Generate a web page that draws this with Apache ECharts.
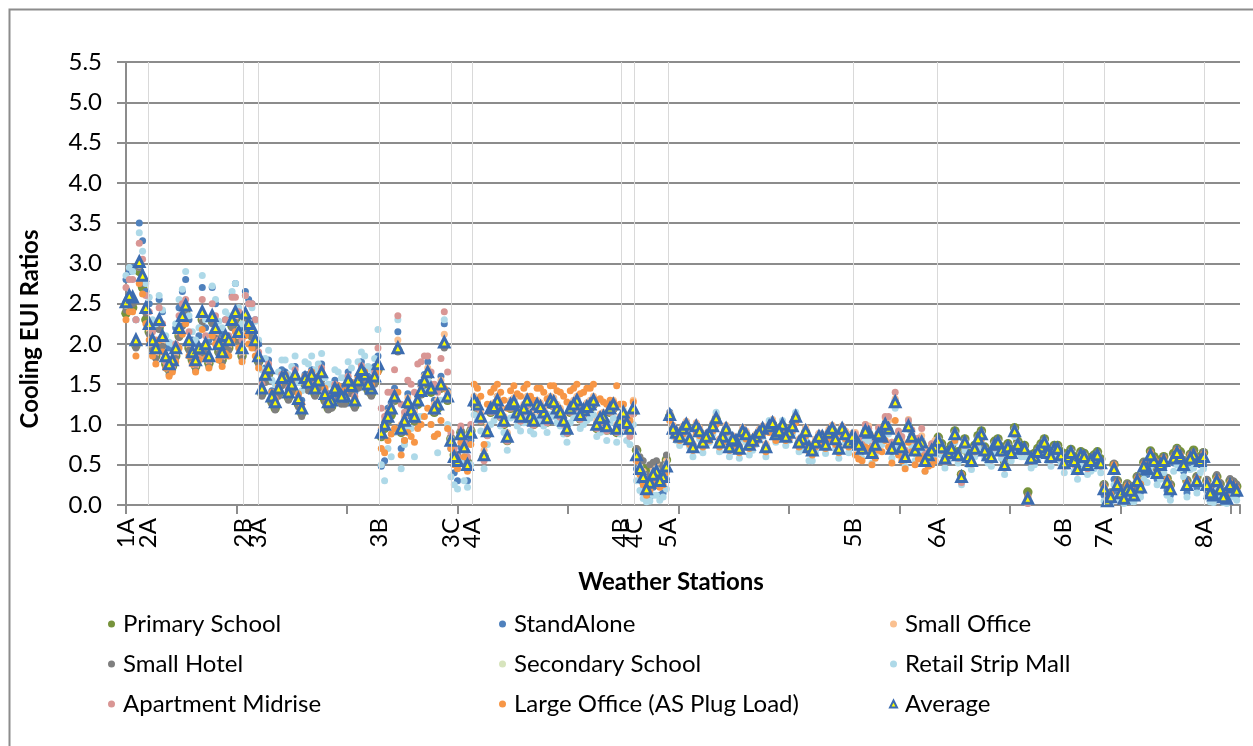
<!DOCTYPE html>
<html><head><meta charset="utf-8">
<script src="https://cdn.jsdelivr.net/npm/echarts@6/dist/echarts.min.js"></script>
<style>html,body{margin:0;padding:0;background:#fff}#c{width:1253px;height:746px}</style>
</head><body><div id="c"></div><script>
// Climate-zone labels and the station number where each zone starts
const zoneNames = ['1A','2A','2B','3A','3B','3C','4A','4B','4C','5A','5B','6A','6B','7A','8A'];
const zonePos   = [0, 20, 106, 120, 229, 294, 313, 448, 460, 491, 658, 734, 848, 885, 976];
const yTicks = [0,0.5,1,1.5,2,2.5,3,3.5,4,4.5,5,5.5];

// Sampled weather stations: set A = stations 0,6,...,1002 ; set B = stations 3,9,...,1005
const stationsA = Array.from({length:168}, (_, i) => i * 6);
const stationsB = Array.from({length:168}, (_, i) => i * 6 + 3);

// ---------- Set A values ----------
const primarySchoolA = [
2.38,2.45,2.9,2.3,
1.95,2.2,1.75,1.72,2.1,2.4,1.8,1.88,1.92,2.28,1.9,2.02,2.22,2.05,
2.3,2.1,
1.78,1.55,1.28,1.38,1.52,1.42,1.25,1.5,1.55,1.48,1.3,1.22,1.35,1.28,1.4,1.48,1.55,1.38,1.68,
0.95,1.12,1.92,1.0,1.12,1.25,1.5,1.4,1.2,1.98,
0.82,0.58,0.78,0.92,
1.2,0.6,1.15,1.25,1.0,1.2,1.1,1.15,1.05,1.2,1.1,1.25,1.15,1.0,1.15,1.25,1.12,1.2,0.95,1.05,1.15,0.9,
1.1,0.92,
0.68,0.45,0.42,0.5,0.45,
1.1,0.88,0.93,0.8,0.96,0.76,0.86,1.06,0.83,0.7,0.78,0.9,0.73,0.83,0.93,0.96,0.86,0.98,0.88,1.08,0.8,0.7,0.76,0.83,0.88,0.8,0.93,0.76,
0.8,0.68,0.88,0.73,0.83,0.93,1.25,0.7,0.96,0.66,0.76,0.6,0.7,
0.76,0.68,0.92,0.38,0.64,0.74,0.92,0.66,0.79,0.72,0.76,0.96,0.74,0.16,0.64,0.76,0.69,0.74,0.66,
0.64,0.6,0.66,0.55,0.62,0.57,
0.1,0.5,0.2,0.26,0.18,0.28,0.5,0.6,0.56,0.33,0.64,0.66,0.3,0.68,0.6,
0.3,0.18,0.26,0.14,0.28];

const standAloneA = [
2.8,2.95,3.5,2.65,
2.2,2.55,2.0,1.95,2.45,2.8,2.05,2.1,2.2,2.7,2.15,2.3,2.6,2.35,
2.65,2.5,
2.0,1.7,1.42,1.5,1.65,1.55,1.38,1.62,1.68,1.6,1.42,1.35,1.48,1.4,1.52,1.6,1.68,1.5,1.85,
0.55,1.25,2.15,0.8,1.1,1.35,1.62,1.5,1.3,2.25,
0.7,0.3,0.55,0.8,
1.28,0.58,1.22,1.35,1.08,1.28,1.18,1.22,1.12,1.28,1.18,1.32,1.22,1.08,1.22,1.32,1.2,1.28,1.02,1.12,1.22,0.98,
1.12,0.9,
0.45,0.2,0.1,0.3,0.15,
1.15,0.92,0.97,0.84,1.0,0.8,0.9,1.1,0.87,0.74,0.82,0.94,0.77,0.87,0.97,1.0,0.9,1.02,0.92,1.12,0.84,0.74,0.8,0.87,0.92,0.84,0.97,0.8,
0.84,0.72,0.92,0.77,0.87,0.97,1.3,0.74,1.0,0.7,0.8,0.64,0.74,
0.7,0.63,0.86,0.3,0.58,0.68,0.86,0.6,0.73,0.66,0.7,0.9,0.68,0.05,0.58,0.7,0.63,0.68,0.6,
0.58,0.52,0.6,0.46,0.55,0.5,
0.03,0.32,0.1,0.15,0.08,0.16,0.38,0.5,0.42,0.18,0.52,0.55,0.15,0.57,0.5,
0.18,0.06,0.14,0.04,0.16];

const smallOfficeA = [
2.45,2.52,2.95,2.4,
1.98,2.25,1.78,1.75,2.12,2.42,1.85,1.9,1.95,2.3,1.95,2.05,2.25,2.1,
2.32,2.15,
1.8,1.58,1.3,1.4,1.55,1.45,1.28,1.52,1.58,1.5,1.33,1.25,1.38,1.3,1.43,1.5,1.58,1.4,1.7,
1.05,1.22,2.05,1.1,1.22,1.35,1.6,1.5,1.3,2.12,
0.85,0.6,0.78,0.95,
1.3,0.68,1.25,1.35,1.1,1.3,1.2,1.25,1.15,1.3,1.2,1.35,1.25,1.1,1.25,1.35,1.22,1.3,1.05,1.15,1.28,1.0,
1.25,1.1,
0.7,0.42,0.35,0.5,0.42,
1.14,0.93,0.98,0.85,1.02,0.82,0.92,1.12,0.88,0.75,0.84,0.96,0.78,0.88,0.98,1.02,0.92,1.04,0.94,1.14,0.86,0.76,0.82,0.88,0.94,0.86,0.98,0.82,
0.9,0.78,0.98,0.85,0.95,1.05,1.32,0.8,1.06,0.76,0.86,0.7,0.8,
0.74,0.67,0.9,0.37,0.62,0.72,0.9,0.64,0.77,0.7,0.74,0.94,0.72,0.1,0.62,0.74,0.67,0.72,0.64,
0.62,0.57,0.64,0.52,0.6,0.55,
0.07,0.47,0.17,0.22,0.14,0.24,0.47,0.57,0.52,0.3,0.6,0.62,0.27,0.64,0.57,
0.27,0.14,0.22,0.1,0.24];

const smallHotelA = [
2.42,2.5,2.95,2.38,
1.92,2.18,1.7,1.68,2.08,2.38,1.78,1.85,1.88,2.25,1.88,1.98,2.2,2.02,
2.28,2.08,
1.75,1.52,1.25,1.35,1.5,1.4,1.22,1.48,1.52,1.45,1.28,1.2,1.32,1.25,1.38,1.45,1.52,1.35,1.65,
1.0,1.15,1.9,1.02,1.15,1.28,1.52,1.42,1.22,1.95,
0.85,0.62,0.78,0.95,
1.22,0.62,1.18,1.28,1.02,1.22,1.12,1.18,1.08,1.22,1.12,1.28,1.18,1.02,1.18,1.28,1.15,1.22,0.98,1.08,1.18,0.92,
1.12,0.92,
0.7,0.55,0.5,0.55,0.5,
1.1,0.88,0.93,0.8,0.96,0.76,0.86,1.06,0.83,0.7,0.78,0.9,0.73,0.83,0.93,0.96,0.86,0.98,0.88,1.08,0.8,0.7,0.76,0.83,0.88,0.8,0.93,0.76,
0.8,0.68,0.88,0.73,0.83,0.93,1.26,0.7,0.96,0.66,0.76,0.6,0.7,
0.75,0.68,0.91,0.38,0.63,0.73,0.91,0.65,0.78,0.71,0.75,0.95,0.73,0.12,0.63,0.75,0.68,0.73,0.65,
0.63,0.58,0.65,0.54,0.61,0.56,
0.12,0.52,0.22,0.27,0.2,0.3,0.5,0.58,0.54,0.34,0.62,0.64,0.32,0.66,0.6,
0.32,0.2,0.28,0.16,0.3];

const secondarySchoolA = [
2.48,2.55,2.98,2.42,
2.02,2.27,1.82,1.77,2.17,2.45,1.87,1.92,1.97,2.32,1.97,2.07,2.27,2.12,
2.35,2.17,
1.82,1.6,1.33,1.43,1.58,1.48,1.3,1.56,1.6,1.53,1.36,1.28,1.4,1.33,1.46,1.53,1.6,1.43,1.72,
0.98,1.18,1.92,1.03,1.16,1.28,1.53,1.43,1.23,2.0,
0.82,0.57,0.74,0.92,
1.23,0.63,1.18,1.28,1.03,1.23,1.13,1.18,1.08,1.23,1.13,1.28,1.18,1.03,1.18,1.28,1.16,1.23,0.98,1.08,1.18,0.96,
1.18,0.98,
0.64,0.38,0.3,0.44,0.37,
1.11,0.89,0.94,0.81,0.97,0.77,0.87,1.07,0.84,0.71,0.79,0.91,0.74,0.84,0.94,0.97,0.87,0.99,0.89,1.09,0.81,0.71,0.77,0.84,0.89,0.81,0.94,0.77,
0.83,0.71,0.91,0.76,0.86,0.96,1.27,0.73,0.99,0.69,0.79,0.63,0.73,
0.73,0.66,0.89,0.36,0.61,0.71,0.89,0.63,0.76,0.69,0.73,0.93,0.71,0.09,0.61,0.73,0.66,0.71,0.63,
0.61,0.56,0.63,0.51,0.59,0.53,
0.06,0.46,0.16,0.21,0.13,0.23,0.46,0.56,0.51,0.29,0.59,0.61,0.26,0.63,0.56,
0.26,0.13,0.21,0.09,0.23];

const retailStripMallA = [
2.85,2.9,3.38,2.75,
2.3,2.6,2.1,2.0,2.55,2.9,2.15,2.2,2.3,2.72,2.28,2.4,2.65,2.45,
2.6,2.45,
2.05,1.82,1.55,1.65,1.8,1.72,1.52,1.78,1.85,1.75,1.58,1.5,1.65,1.58,1.7,1.78,1.85,1.68,2.18,
0.3,0.6,2.3,0.75,0.95,1.1,1.4,1.0,0.65,2.3,
0.35,0.2,0.3,0.5,
1.05,0.45,1.0,1.12,0.9,1.08,0.98,1.02,0.92,1.08,0.98,1.12,1.02,0.88,1.02,1.12,1.0,1.08,0.85,0.92,1.02,0.78,
0.95,0.75,
0.3,0.08,0.05,0.12,0.1,
1.05,0.8,0.85,0.72,0.88,0.65,0.78,1.15,0.75,0.6,0.68,0.82,0.62,0.75,0.85,1.05,0.78,1.05,0.8,1.15,0.7,0.55,0.65,0.75,0.8,0.7,0.88,0.65,
0.72,0.58,0.8,0.63,0.75,0.88,1.2,0.6,1.05,0.55,0.66,0.5,0.6,
0.62,0.55,0.78,0.25,0.5,0.6,0.8,0.52,0.65,0.58,0.62,0.85,0.6,0.02,0.5,0.62,0.55,0.6,0.52,
0.48,0.42,0.5,0.38,0.45,0.4,
0.02,0.25,0.05,0.08,0.04,0.1,0.28,0.38,0.32,0.12,0.42,0.45,0.1,0.46,0.4,
0.1,0.03,0.08,0.02,0.1];

const apartmentMidriseA = [
2.7,2.8,3.25,2.6,
2.15,2.45,1.78,1.72,2.35,2.55,1.75,1.82,2.1,2.5,2.05,2.3,2.58,2.4,
2.6,2.5,
1.9,1.65,1.35,1.45,1.62,1.52,1.33,1.6,1.65,1.57,1.4,1.32,1.45,1.37,1.5,1.57,1.65,1.47,1.95,
1.1,1.4,2.35,1.15,1.5,1.75,1.85,1.65,1.4,2.4,
0.9,0.6,0.78,1.0,
1.2,0.55,1.15,1.25,1.0,1.2,1.1,1.15,1.05,1.2,1.1,1.25,1.15,1.0,1.15,1.25,1.12,1.2,0.95,1.05,1.15,0.9,
1.1,0.85,
0.55,0.3,0.22,0.38,0.3,
1.08,0.86,0.9,0.78,0.94,0.74,0.84,1.04,0.81,0.68,0.76,0.88,0.71,0.81,0.91,0.94,0.84,0.96,0.86,1.06,0.78,0.68,0.74,0.81,0.86,0.78,0.91,0.74,
0.88,0.75,0.95,0.8,0.92,1.1,1.4,0.85,1.05,0.8,0.95,0.65,0.75,
0.68,0.6,0.84,0.28,0.55,0.66,0.84,0.58,0.71,0.64,0.68,0.88,0.66,0.02,0.56,0.68,0.61,0.66,0.58,
0.56,0.5,0.58,0.45,0.54,0.48,
0.03,0.42,0.12,0.17,0.1,0.2,0.42,0.52,0.47,0.25,0.55,0.57,0.22,0.6,0.52,
0.22,0.1,0.17,0.06,0.19];

const largeOfficeA = [
2.3,2.4,2.75,2.25,
1.85,2.05,1.7,1.65,1.95,2.25,1.75,1.8,1.82,2.1,1.8,1.88,2.05,1.95,
2.1,1.95,
1.7,1.6,1.4,1.48,1.62,1.55,1.38,1.6,1.65,1.6,1.45,1.38,1.48,1.42,1.52,1.6,1.65,1.5,1.65,
0.65,0.88,1.4,0.8,0.85,0.95,1.1,1.0,0.88,1.45,
0.7,0.45,0.6,0.75,
1.45,0.75,1.4,1.5,1.3,1.42,1.38,1.45,1.35,1.45,1.4,1.48,1.42,1.35,1.42,1.5,1.4,1.45,1.3,1.28,1.3,1.48,
1.25,1.05,
0.55,0.25,0.18,0.32,0.25,
1.05,0.82,0.88,0.75,0.9,0.72,0.8,1.0,0.78,0.68,0.74,0.85,0.7,0.78,0.88,0.9,0.8,0.92,0.82,1.02,0.75,0.66,0.72,0.78,0.82,0.75,0.88,0.72,
0.62,0.55,0.7,0.58,0.66,0.72,1.05,0.55,0.78,0.5,0.6,0.48,0.55,
0.68,0.62,0.8,0.38,0.58,0.66,0.82,0.6,0.72,0.65,0.7,0.88,0.68,0.1,0.6,0.7,0.63,0.68,0.6,
0.58,0.54,0.6,0.5,0.56,0.52,
0.08,0.5,0.18,0.24,0.15,0.26,0.48,0.57,0.53,0.32,0.6,0.62,0.28,0.64,0.58,
0.28,0.15,0.23,0.11,0.25];

const averageA = [
2.52,2.58,3.02,2.45,
2.05,2.3,1.85,1.8,2.2,2.48,1.9,1.95,2.0,2.35,2.0,2.1,2.3,2.15,
2.38,2.2,
1.85,1.62,1.35,1.45,1.6,1.5,1.32,1.58,1.62,1.55,1.38,1.3,1.42,1.35,1.48,1.55,1.62,1.45,1.75,
1.0,1.2,1.95,1.05,1.18,1.3,1.55,1.45,1.25,2.02,
0.8,0.55,0.72,0.9,
1.25,0.62,1.2,1.3,1.05,1.25,1.15,1.2,1.1,1.25,1.15,1.3,1.2,1.05,1.2,1.3,1.18,1.25,1.0,1.1,1.2,0.95,
1.15,0.95,
0.62,0.35,0.28,0.42,0.35,
1.12,0.9,0.95,0.82,0.98,0.78,0.88,1.08,0.85,0.72,0.8,0.92,0.75,0.85,0.95,0.98,0.88,1.0,0.9,1.1,0.82,0.72,0.78,0.85,0.9,0.82,0.95,0.78,
0.82,0.7,0.9,0.75,0.85,0.95,1.28,0.72,0.98,0.68,0.78,0.62,0.72,
0.72,0.65,0.88,0.35,0.6,0.7,0.88,0.62,0.75,0.68,0.72,0.92,0.7,0.08,0.6,0.72,0.65,0.7,0.62,
0.6,0.55,0.62,0.5,0.58,0.52,
0.05,0.45,0.15,0.2,0.12,0.22,0.45,0.55,0.5,0.28,0.58,0.6,0.25,0.62,0.55,
0.25,0.12,0.2,0.08,0.22];

// ---------- Set B values ----------
const primarySchoolB = [
2.45,1.98,2.7,
2.15,1.85,2.0,1.68,1.85,2.25,1.95,1.72,2.3,1.76,2.1,1.8,1.95,2.3,1.85,
2.18,1.97,
1.38,1.62,1.2,1.5,1.33,1.55,1.14,1.45,1.38,1.58,1.2,1.38,1.28,1.48,1.23,1.6,1.43,1.53,
0.85,1.05,1.3,0.9,1.23,1.05,1.38,1.6,1.15,1.45,1.3,
0.62,0.9,0.53,
1.25,1.05,0.88,1.17,1.1,0.8,1.23,1.05,1.25,1.0,1.17,1.03,1.23,1.1,0.9,1.2,1.07,1.17,1.25,1.03,0.93,1.2,1.0,
0.97,1.15,
0.55,0.3,0.46,0.4,0.56,
0.93,0.83,0.98,0.7,0.9,0.83,0.96,0.76,0.93,0.8,0.68,0.86,0.78,0.88,0.7,1.0,0.9,0.83,0.96,0.76,0.9,0.66,0.83,0.73,0.93,0.68,0.86,0.83,
0.73,0.9,0.63,0.86,0.98,0.68,0.8,0.58,0.83,0.73,0.53,0.66,
0.84,0.62,0.74,0.66,0.82,0.59,0.86,0.72,0.64,0.82,0.54,0.69,0.79,0.74,0.62,0.7,0.82,0.64,0.74,
0.56,0.69,0.49,0.64,0.59,0.66,
0.25,0.15,0.3,0.13,0.23,0.35,0.53,0.67,0.45,0.6,0.25,0.7,0.55,0.63,0.35,0.65,
0.2,0.35,0.15,0.3,0.23];

const standAloneB = [
2.9,2.3,3.28,
2.5,2.2,2.4,1.95,2.2,2.65,2.3,2.0,2.7,2.05,2.5,2.12,2.3,2.75,2.2,
2.55,2.3,
1.55,1.8,1.38,1.68,1.5,1.72,1.3,1.62,1.55,1.75,1.38,1.55,1.45,1.65,1.4,1.78,1.6,1.72,
0.48,1.2,1.45,0.7,1.38,1.2,1.52,1.78,1.3,1.6,1.42,
0.4,0.72,0.3,
1.33,1.13,0.95,1.25,1.18,0.88,1.31,1.13,1.33,1.08,1.25,1.11,1.31,1.18,0.98,1.28,1.15,1.25,1.33,1.11,1.01,1.28,1.08,
0.98,1.17,
0.3,0.08,0.22,0.12,0.32,
0.98,0.88,1.03,0.75,0.95,0.88,1.01,0.81,0.98,0.85,0.73,0.91,0.83,0.93,0.75,1.05,0.95,0.88,1.01,0.81,0.95,0.71,0.88,0.78,0.98,0.73,0.91,0.88,
0.77,0.94,0.67,0.9,1.02,0.72,0.84,0.62,0.87,0.77,0.57,0.7,
0.78,0.56,0.68,0.6,0.76,0.53,0.8,0.66,0.58,0.76,0.48,0.63,0.73,0.68,0.56,0.64,0.76,0.58,0.68,
0.49,0.62,0.42,0.57,0.52,0.59,
0.12,0.04,0.17,0.03,0.1,0.22,0.4,0.55,0.32,0.47,0.12,0.57,0.42,0.5,0.22,0.52,
0.09,0.24,0.05,0.19,0.12];

const smallOfficeB = [
2.53,1.98,2.78,
2.18,1.88,2.03,1.68,1.88,2.28,1.98,1.73,2.33,1.78,2.13,1.83,1.98,2.33,1.88,
2.19,1.99,
1.4,1.65,1.23,1.53,1.35,1.57,1.15,1.47,1.4,1.6,1.23,1.4,1.3,1.5,1.25,1.63,1.45,1.55,
0.95,1.15,1.4,1.0,1.33,1.15,1.47,1.7,1.25,1.55,1.4,
0.65,0.93,0.55,
1.35,1.15,0.97,1.27,1.2,0.9,1.33,1.15,1.35,1.1,1.27,1.13,1.33,1.2,1.0,1.3,1.17,1.27,1.35,1.13,1.03,1.3,1.1,
1.12,1.3,
0.52,0.27,0.45,0.37,0.55,
0.99,0.89,1.04,0.76,0.96,0.89,1.02,0.82,0.99,0.86,0.74,0.92,0.84,0.94,0.76,1.06,0.96,0.89,1.02,0.82,0.96,0.72,0.89,0.79,0.99,0.74,0.92,0.89,
0.83,1.0,0.73,0.96,1.08,0.78,0.9,0.68,0.93,0.83,0.63,0.76,
0.82,0.6,0.72,0.64,0.8,0.57,0.84,0.7,0.62,0.8,0.52,0.67,0.77,0.72,0.6,0.68,0.8,0.62,0.72,
0.54,0.67,0.47,0.62,0.57,0.64,
0.22,0.12,0.27,0.1,0.2,0.32,0.5,0.64,0.42,0.57,0.22,0.67,0.52,0.6,0.32,0.62,
0.17,0.32,0.12,0.27,0.2];

const smallHotelB = [
2.5,1.95,2.75,
2.12,1.82,1.97,1.62,1.82,2.22,1.92,1.67,2.27,1.72,2.07,1.77,1.92,2.27,1.82,
2.15,1.95,
1.35,1.6,1.18,1.48,1.3,1.52,1.1,1.42,1.35,1.55,1.18,1.35,1.25,1.45,1.2,1.58,1.4,1.5,
0.85,1.05,1.3,0.9,1.23,1.05,1.37,1.6,1.15,1.45,1.3,
0.65,0.93,0.55,
1.27,1.07,0.89,1.19,1.12,0.82,1.25,1.07,1.27,1.02,1.19,1.05,1.25,1.12,0.92,1.22,1.09,1.19,1.27,1.05,0.95,1.22,1.02,
0.99,1.17,
0.6,0.38,0.53,0.45,0.62,
0.92,0.82,0.97,0.69,0.89,0.82,0.95,0.75,0.92,0.79,0.67,0.85,0.77,0.87,0.69,0.99,0.89,0.82,0.95,0.75,0.89,0.65,0.82,0.72,0.92,0.67,0.85,0.82,
0.73,0.9,0.63,0.86,0.98,0.68,0.8,0.58,0.83,0.73,0.53,0.66,
0.83,0.61,0.73,0.65,0.81,0.58,0.85,0.71,0.63,0.81,0.53,0.68,0.78,0.73,0.61,0.69,0.81,0.63,0.73,
0.55,0.68,0.48,0.63,0.58,0.65,
0.26,0.16,0.31,0.14,0.24,0.36,0.54,0.66,0.46,0.6,0.26,0.7,0.56,0.63,0.36,0.66,
0.23,0.38,0.18,0.33,0.26];

const secondarySchoolB = [
2.57,2.02,2.82,
2.22,1.92,2.07,1.72,1.92,2.32,2.02,1.77,2.37,1.82,2.17,1.87,2.02,2.37,1.92,
2.22,2.02,
1.42,1.67,1.25,1.55,1.37,1.59,1.17,1.49,1.42,1.62,1.25,1.42,1.32,1.52,1.27,1.65,1.47,1.57,
0.87,1.07,1.32,0.92,1.25,1.07,1.39,1.62,1.17,1.47,1.32,
0.58,0.86,0.48,
1.27,1.07,0.9,1.19,1.12,0.83,1.25,1.07,1.27,1.02,1.19,1.05,1.25,1.12,0.93,1.22,1.09,1.19,1.27,1.05,0.96,1.22,1.02,
1.0,1.17,
0.47,0.22,0.4,0.32,0.5,
0.94,0.84,0.99,0.71,0.91,0.84,0.97,0.77,0.94,0.81,0.69,0.87,0.79,0.89,0.71,1.01,0.91,0.84,0.97,0.77,0.91,0.67,0.84,0.74,0.94,0.69,0.87,0.84,
0.74,0.91,0.64,0.87,0.99,0.69,0.81,0.59,0.84,0.74,0.54,0.67,
0.81,0.59,0.71,0.63,0.79,0.56,0.83,0.69,0.61,0.79,0.51,0.66,0.76,0.71,0.59,0.67,0.79,0.61,0.71,
0.53,0.66,0.46,0.61,0.56,0.63,
0.21,0.11,0.26,0.09,0.19,0.31,0.49,0.63,0.41,0.56,0.21,0.66,0.51,0.59,0.31,0.61,
0.16,0.31,0.11,0.26,0.19];

const retailStripMallB = [
2.95,2.3,3.15,
2.58,2.25,2.42,2.02,2.25,2.68,2.35,2.05,2.85,2.1,2.55,2.2,2.35,2.75,2.25,
2.5,2.28,
1.68,1.92,1.5,1.8,1.62,1.85,1.42,1.75,1.68,1.88,1.5,1.68,1.58,1.78,1.52,1.9,1.72,1.82,
0.5,0.7,0.9,0.45,0.95,0.6,1.1,1.55,0.85,1.3,1.0,
0.25,0.55,0.22,
1.12,0.92,0.75,1.05,0.98,0.68,1.1,0.92,1.12,0.88,1.05,0.9,1.1,0.98,0.78,1.08,0.95,1.05,1.12,0.9,0.8,1.08,0.88,
0.8,1.0,
0.18,0.04,0.12,0.06,0.2,
0.85,0.74,0.9,0.6,0.82,0.74,0.88,0.66,0.85,0.7,0.58,0.78,0.68,0.8,0.6,0.92,0.82,0.74,0.88,0.66,0.82,0.55,0.74,0.64,0.85,0.58,0.78,0.74,
0.62,0.8,0.52,0.76,0.88,0.58,0.7,0.48,0.72,0.62,0.42,0.55,
0.7,0.46,0.6,0.52,0.68,0.44,0.72,0.58,0.48,0.68,0.38,0.55,0.65,0.6,0.46,0.56,0.68,0.48,0.6,
0.4,0.52,0.32,0.48,0.42,0.5,
0.05,0.02,0.1,0.02,0.04,0.15,0.32,0.48,0.25,0.4,0.06,0.5,0.35,0.44,0.15,0.45,
0.04,0.18,0.03,0.13,0.06];

const apartmentMidriseB = [
2.8,2.3,3.05,
2.4,2.05,2.25,1.72,2.0,2.5,2.15,1.75,2.55,1.8,2.35,1.85,2.1,2.58,2.05,
2.5,2.3,
1.5,1.75,1.32,1.62,1.45,1.68,1.25,1.57,1.5,1.7,1.33,1.5,1.4,1.6,1.35,1.73,1.55,1.65,
1.2,1.4,1.68,1.25,1.55,1.4,1.78,1.85,1.5,1.82,1.65,
0.7,0.98,0.6,
1.24,1.04,0.86,1.16,1.09,0.79,1.22,1.04,1.24,0.99,1.16,1.02,1.22,1.09,0.89,1.19,1.06,1.16,1.24,1.02,0.92,1.19,0.99,
0.95,1.13,
0.39,0.15,0.32,0.24,0.42,
0.91,0.81,0.96,0.68,0.88,0.81,0.94,0.74,0.91,0.78,0.66,0.84,0.76,0.86,0.68,0.98,0.88,0.81,0.94,0.74,0.88,0.64,0.81,0.71,0.91,0.66,0.84,0.81,
0.83,1.0,0.73,0.96,1.1,0.78,0.92,0.68,0.93,0.83,0.63,0.76,
0.76,0.54,0.66,0.58,0.74,0.51,0.78,0.64,0.56,0.74,0.46,0.61,0.71,0.66,0.54,0.62,0.74,0.56,0.66,
0.48,0.61,0.41,0.56,0.51,0.58,
0.17,0.07,0.22,0.05,0.15,0.27,0.45,0.59,0.37,0.52,0.17,0.62,0.47,0.55,0.27,0.57,
0.12,0.27,0.07,0.22,0.15];

const largeOfficeB = [
2.4,1.85,2.62,
2.05,1.75,1.9,1.6,1.78,2.12,1.85,1.65,2.18,1.7,2.0,1.72,1.85,2.15,1.78,
2.0,1.85,
1.45,1.68,1.3,1.58,1.42,1.62,1.25,1.52,1.48,1.65,1.3,1.46,1.38,1.55,1.32,1.65,1.5,1.58,
0.7,0.8,0.95,0.62,0.9,0.78,1.0,1.2,0.85,1.05,0.95,
0.5,0.78,0.42,
1.5,1.35,1.25,1.45,1.4,1.2,1.48,1.35,1.5,1.3,1.45,1.32,1.48,1.4,1.28,1.45,1.38,1.45,1.5,1.32,1.25,1.28,1.25,
1.1,1.28,
0.38,0.12,0.3,0.22,0.4,
0.9,0.8,0.95,0.68,0.86,0.8,0.92,0.72,0.9,0.76,0.65,0.82,0.74,0.84,0.66,0.96,0.86,0.8,0.92,0.72,0.86,0.62,0.8,0.7,0.9,0.65,0.82,0.8,
0.57,0.72,0.5,0.68,0.8,0.52,0.62,0.45,0.66,0.57,0.42,0.5,
0.77,0.55,0.67,0.6,0.75,0.52,0.79,0.65,0.57,0.75,0.48,0.62,0.72,0.67,0.55,0.63,0.75,0.57,0.67,
0.5,0.63,0.43,0.58,0.53,0.6,
0.23,0.13,0.28,0.11,0.21,0.33,0.51,0.65,0.43,0.58,0.23,0.68,0.53,0.61,0.33,0.63,
0.18,0.33,0.13,0.28,0.21];

const averageB = [
2.6,2.05,2.85,
2.25,1.95,2.1,1.75,1.95,2.35,2.05,1.8,2.4,1.85,2.2,1.9,2.05,2.4,1.95,
2.25,2.05,
1.45,1.7,1.28,1.58,1.4,1.62,1.2,1.52,1.45,1.65,1.28,1.45,1.35,1.55,1.3,1.68,1.5,1.6,
0.9,1.1,1.35,0.95,1.28,1.1,1.42,1.65,1.2,1.5,1.35,
0.6,0.88,0.5,
1.3,1.1,0.92,1.22,1.15,0.85,1.28,1.1,1.3,1.05,1.22,1.08,1.28,1.15,0.95,1.25,1.12,1.22,1.3,1.08,0.98,1.25,1.05,
1.02,1.2,
0.45,0.2,0.38,0.3,0.48,
0.95,0.85,1.0,0.72,0.92,0.85,0.98,0.78,0.95,0.82,0.7,0.88,0.8,0.9,0.72,1.02,0.92,0.85,0.98,0.78,0.92,0.68,0.85,0.75,0.95,0.7,0.88,0.85,
0.75,0.92,0.65,0.88,1.0,0.7,0.82,0.6,0.85,0.75,0.55,0.68,
0.8,0.58,0.7,0.62,0.78,0.55,0.82,0.68,0.6,0.78,0.5,0.65,0.75,0.7,0.58,0.66,0.78,0.6,0.7,
0.52,0.65,0.45,0.6,0.55,0.62,
0.2,0.1,0.25,0.08,0.18,0.3,0.48,0.62,0.4,0.55,0.2,0.65,0.5,0.58,0.3,0.6,
0.15,0.3,0.1,0.25,0.18];

const FONT = 'Lato, "Open Sans", sans-serif';
const GRID = '#8C8C8C';
const FS = 24;
function pts(a, b){
  return a.map((v, i) => [stationsA[i], v]).concat(b.map((v, i) => [stationsB[i], v]));
}

// Zone labels that sit right next to the previous one go on a second label axis,
// so that the library's overlap handling never drops them.
const closeZone = zonePos.map((p, i) => i > 0 && p - zonePos[i - 1] < 25);
const labelsMain = zonePos.filter((p, i) => !closeZone[i]);
const labelsAlt  = zonePos.filter((p, i) => closeZone[i]);

const defs = [
  {name:'Primary School', a:primarySchoolA, b:primarySchoolB, color:'#77933C', size:9.5},
  {name:'StandAlone', a:standAloneA, b:standAloneB, color:'#4F81BD', size:7},
  {name:'Small Office', a:smallOfficeA, b:smallOfficeB, color:'#FAC090', size:7},
  {name:'Small Hotel', a:smallHotelA, b:smallHotelB, color:'#7F7F7F', size:7},
  {name:'Secondary School', a:secondarySchoolA, b:secondarySchoolB, color:'#D7E4BD', size:7},
  {name:'Retail Strip Mall', a:retailStripMallA, b:retailStripMallB, color:'#AED9E8', size:7},
  {name:'Apartment Midrise', a:apartmentMidriseA, b:apartmentMidriseB, color:'#D99694', size:7},
  {name:'Large Office (AS Plug Load)', a:largeOfficeA, b:largeOfficeB, color:'#F79646', size:7}
];

const series = [{
  type:'scatter', name:'zones', data:[], silent:true, z:1,
  markLine:{silent:true, symbol:['none','none'], label:{show:false}, animation:false,
    lineStyle:{color:'#D9D9D9', width:1, type:'solid'},
    data: zonePos.slice(1).map(p => ({xAxis:p}))}
}];
defs.forEach(d => series.push({
  type:'scatter', name:d.name, data:pts(d.a, d.b), symbol:'circle', symbolSize:d.size,
  itemStyle:{color:d.color, opacity:1}, z:2
}));
series.push({
  type:'scatter', name:'Average', data:pts(averageA, averageB), symbol:'triangle', symbolSize:9.5,
  itemStyle:{color:'#FFFF00', borderColor:'#3C6CB0', borderWidth:3, opacity:1}, z:3
});

function legendCol(names, left){
  return {
    data:names, orient:'vertical', left:left, top:612, itemGap:16, padding:0,
    itemWidth:7, itemHeight:7,
    textStyle:{fontFamily:FONT, fontSize:FS, color:'#000', lineHeight:24, padding:[0,0,0,3]},
    selectedMode:false
  };
}

function labelAxis(values){
  return {
    type:'value', min:0, max:1008, position:'bottom',
    axisLine:{show:false}, axisTick:{show:false}, splitLine:{show:false},
    axisLabel:{customValues:values, rotate:90, margin:13, fontSize:FS, color:'#000', fontFamily:FONT,
      showMinLabel:true, showMaxLabel:true, hideOverlap:false,
      formatter:v => zoneNames[zonePos.indexOf(v)] || ''}
  };
}

const chart = echarts.init(document.getElementById('c'), null, {renderer:'canvas'});
chart.setOption({
  animation:false,
  backgroundColor:'#fff',
  textStyle:{fontFamily:FONT},
  graphic:[
    {type:'rect', left:7, top:7, shape:{width:1300, height:800},
      style:{fill:'none', stroke:GRID, lineWidth:2}, silent:true},
    {type:'text', x:30, y:329, rotation:Math.PI/2, silent:true,
      style:{text:'Cooling EUI Ratios', fontFamily:FONT, fontWeight:'bold', fontSize:FS,
        fill:'#000', align:'center', verticalAlign:'middle'}},
    {type:'text', x:671, y:582, silent:true,
      style:{text:'Weather Stations', fontFamily:FONT, fontWeight:'bold', fontSize:FS,
        fill:'#000', align:'center', verticalAlign:'middle'}}
  ],
  grid:{left:126, right:13, top:62, bottom:241},
  legend:[
    legendCol(['Primary School','Small Hotel','Apartment Midrise'], 108),
    legendCol(['StandAlone','Secondary School','Large Office (AS Plug Load)'], 499),
    legendCol(['Small Office','Retail Strip Mall','Average'], 889)
  ],
  xAxis:[{
    type:'value', min:0, max:1008, interval:100,
    axisLine:{show:true, lineStyle:{color:GRID, width:2}},
    axisTick:{show:true, length:9, lineStyle:{color:GRID, width:2}},
    axisLabel:{show:false}, splitLine:{show:false}
  }, labelAxis(labelsMain), labelAxis(labelsAlt)],
  yAxis:{
    type:'value', min:0, max:5.5, interval:0.5,
    axisLine:{show:true, lineStyle:{color:GRID, width:2}},
    axisTick:{show:true, length:9, lineStyle:{color:GRID, width:2}},
    axisLabel:{customValues:yTicks, formatter:v => v.toFixed(1), fontSize:FS, color:'#000', margin:24, fontFamily:FONT},
    splitLine:{show:true, lineStyle:{color:GRID, width:2}}
  },
  series:series
});
</script></body></html>
